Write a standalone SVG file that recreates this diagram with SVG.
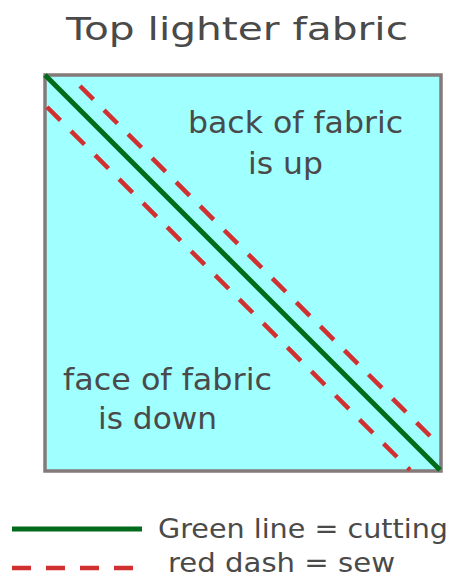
<svg xmlns="http://www.w3.org/2000/svg" width="457" height="578" viewBox="0 0 457 578">
<style>
text{font-family:"DejaVu Sans",Verdana,sans-serif;fill:#4a4a4a}
.t{font-size:32px}
.l{font-size:30px}
.k{font-size:27px}
.g{stroke:#006b1a;stroke-width:5;fill:none}
.r{stroke:#d03030;stroke-width:4.5;fill:none;stroke-dasharray:19 15}
</style>
<rect width="457" height="578" fill="#fff"/>
<text class="t" x="66" y="40" textLength="342" lengthAdjust="spacingAndGlyphs">Top lighter fabric</text>
<g id="fabric">
<rect x="45" y="75" width="396" height="396" fill="#a0ffff" stroke="#857a7a" stroke-width="3.5"/>
<text class="l" x="188" y="133" textLength="215" lengthAdjust="spacingAndGlyphs">back of fabric</text>
<text class="l" x="248" y="174" textLength="75" lengthAdjust="spacingAndGlyphs">is up</text>
<text class="l" x="63" y="390" textLength="209" lengthAdjust="spacingAndGlyphs">face of fabric</text>
<text class="l" x="98" y="429" textLength="119" lengthAdjust="spacingAndGlyphs">is down</text>
</g>
<g id="connectors">
<line class="g" x1="45" y1="75" x2="440" y2="470"/>
<line class="r" x1="80" y1="86" x2="440" y2="446"/>
<line class="r" x1="47" y1="107" x2="410" y2="470"/>
</g>
<g id="legend">
<line class="g" x1="12" y1="529" x2="142" y2="529" stroke="#0a6b44"/>
<text class="k" x="158" y="538" textLength="290" lengthAdjust="spacingAndGlyphs">Green line = cutting</text>
<line class="r" x1="12" y1="568" x2="140" y2="568" stroke-dasharray="27 19" stroke="#c00000"/>
<text class="k" x="168" y="572" textLength="227" lengthAdjust="spacingAndGlyphs">red dash = sew</text>
</g>
</svg>
